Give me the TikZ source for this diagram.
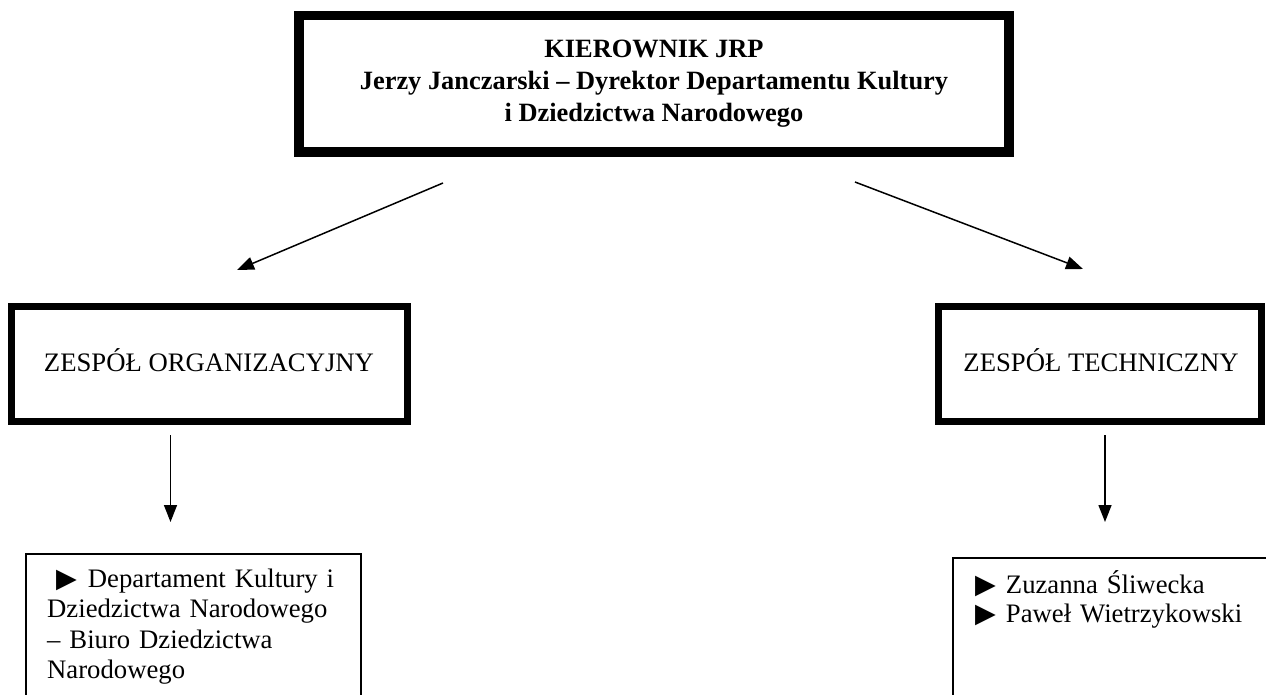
\documentclass[tikz,border=0pt]{standalone}
\usepackage{fontspec}
\setmainfont{Liberation Serif}
\newfontfamily\symfnt{DejaVu Sans}
\newcommand\tribullet{{\symfnt\fontsize{27}{27}\selectfont ▶}}
\usetikzlibrary{arrows.meta}
\begin{document}
\begin{tikzpicture}[x=1pt,y=-1pt,
  thickbox/.style={draw, line width=7pt, inner sep=0pt},
  thinbox/.style={draw, line width=1.8pt, inner sep=0pt},
  txt/.style={font=\fontsize{26.7}{30.5}\selectfont, inner sep=0pt},
  conn/.style={line width=1.5pt, -{Triangle[length=17pt,width=13pt]}}]
\useasboundingbox (0,0) rectangle (1266,695);
\clip (0,0) rectangle (1266,695);
% top box
\node (top) [thickbox, minimum width=713pt, minimum height=139pt] at (654,83.7) {};
\draw[line width=2.7pt] ([xshift=8.4pt,yshift=-8.4pt]top.north west) rectangle ([xshift=-8.4pt,yshift=8.4pt]top.south east);
\node (toptxt) [inner sep=0pt, font=\fontsize{26.4}{32}\selectfont\bfseries, align=center, anchor=base] at (654,122)
  {KIEROWNIK JRP\\Jerzy Janczarski – Dyrektor Departamentu Kultury\\i Dziedzictwa Narodowego};
% middle boxes
\node (org) [thickbox, minimum width=395.4pt, minimum height=114.5pt] at (209.5,364) {};
\node (orgtxt) [txt, anchor=base] at (209,371) {ZESPÓŁ ORGANIZACYJNY};
\node (tech) [thickbox, minimum width=323pt, minimum height=114.5pt] at (1100,364) {};
\node (techtxt) [txt, anchor=base] at (1101,371) {ZESPÓŁ TECHNICZNY};
% arrows from top
\coordinate (a1s) at (443,183); \coordinate (a1e) at (237,270);
\coordinate (a2s) at (855,182); \coordinate (a2e) at (1083,269);
\draw[conn] (a1s) -- (a1e);
\draw[conn] (a2s) -- (a2e);
% down arrows
\coordinate (d1s) at (170.5,435); \coordinate (d1e) at (170.5,522);
\coordinate (d2s) at (1105,435); \coordinate (d2e) at (1105,522);
\draw[conn] (d1s) -- (d1e);
\draw[conn] (d2s) -- (d2e);
% bottom boxes
\node (bl) [thinbox, anchor=north west, minimum width=335pt, minimum height=200pt] at (25,552.7) {};
\node (bltxt) [txt, anchor=base west, align=left, text width=310pt] at (47,587)
  {\hspace*{9pt}\tribullet\hspace{11pt}Departament Kultury i\\Dziedzictwa Narodowego\\– Biuro Dziedzictwa\\Narodowego};
\node (br) [thinbox, anchor=north west, minimum width=350pt, minimum height=200pt] at (951.7,557) {};
\node (brtxt) [txt, anchor=base west, align=left, text width=300pt, font=\fontsize{26.7}{29.5}\selectfont] at (975,593)
  {\tribullet\hspace{10pt}Zuzanna Śliwecka\\\tribullet\hspace{10pt}Paweł Wietrzykowski};
\end{tikzpicture}
\end{document}
